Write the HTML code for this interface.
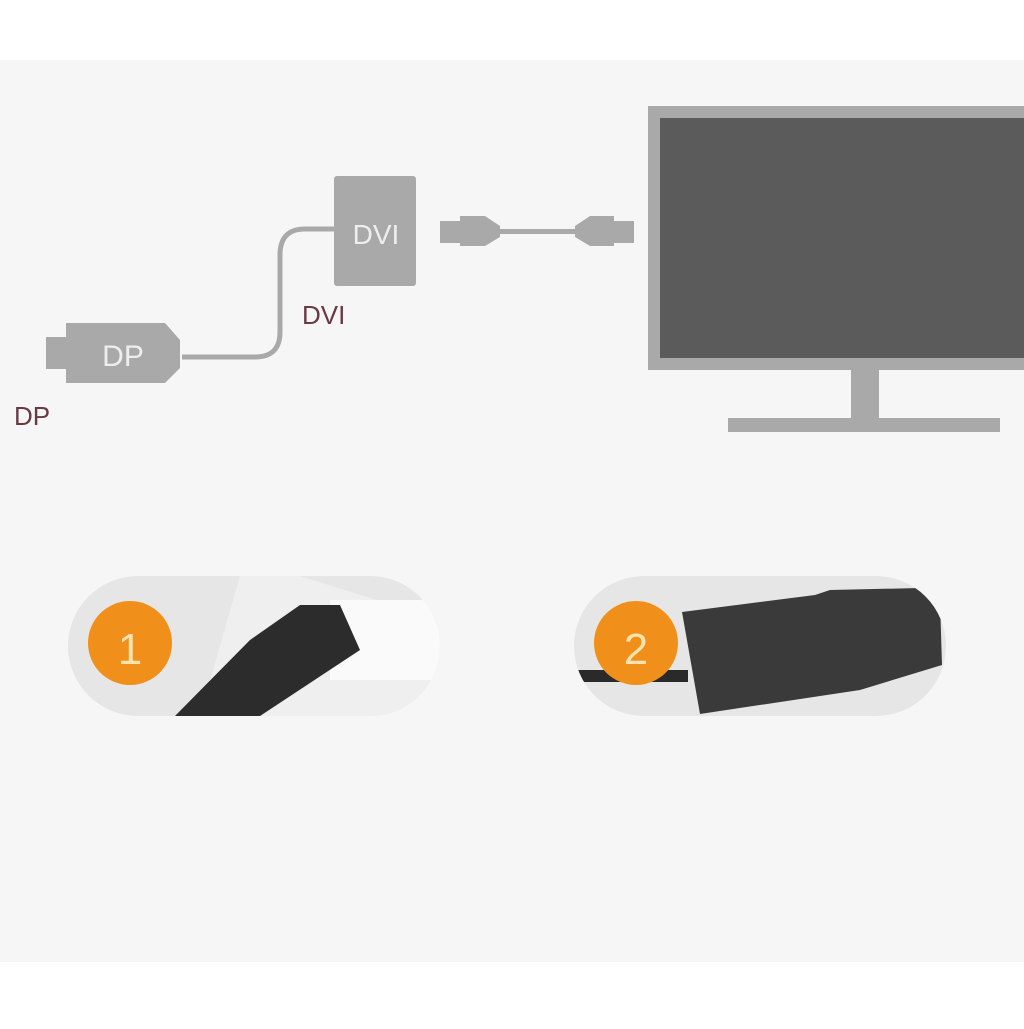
<!DOCTYPE html>
<html><head><style>
body{margin:0;width:1024px;height:1024px;background:#fff;overflow:hidden;font-family:"Liberation Sans",sans-serif}
</style></head><body>
<svg width="1024" height="1024" viewBox="0 0 1024 1024" xmlns="http://www.w3.org/2000/svg">
<defs>
<clipPath id="c1"><rect x="68" y="576" width="372" height="140" rx="70"/></clipPath>
<clipPath id="c2"><rect x="574" y="576" width="372" height="140" rx="70"/></clipPath>
</defs>
<rect x="0" y="60" width="1024" height="902" fill="#f6f6f6"/>
<!-- monitor -->
<rect x="648" y="106" width="380" height="264" fill="#a9a9a9"/>
<rect x="660" y="118" width="364" height="240" fill="#5b5b5b"/>
<rect x="851" y="370" width="28" height="50" fill="#a9a9a9"/>
<rect x="728" y="418" width="272" height="14" fill="#a9a9a9"/>
<!-- DP -->
<rect x="46" y="337" width="22" height="32" fill="#a9a9a9"/>
<path d="M66 323 H165 L180 340 V368 L165 383 H66 Z" fill="#a9a9a9"/>
<text x="123" y="366" font-size="30" fill="#eee" text-anchor="middle">DP</text>
<path d="M182 357 H255 Q280 357 280 332 V255 Q280 229 305 229 H336" fill="none" stroke="#a9a9a9" stroke-width="5"/>
<!-- DVI box -->
<rect x="334" y="176" width="82" height="110" rx="3" fill="#a9a9a9"/>
<text x="376" y="244" font-size="28" fill="#eee" text-anchor="middle">DVI</text>
<text x="302" y="324" font-size="26" fill="#6a3a44">DVI</text>
<text x="14" y="425" font-size="26" fill="#6a3a44">DP</text>
<!-- cable -->
<rect x="440" y="221" width="20" height="22" fill="#a9a9a9"/>
<path d="M460 216 H485 L500 226 V237 L485 246 H460 Z" fill="#a9a9a9"/>
<rect x="498" y="229" width="80" height="5" fill="#a9a9a9"/>
<path d="M614 216 H590 L575 226 V237 L590 246 H614 Z" fill="#a9a9a9"/>
<rect x="614" y="221" width="20" height="22" fill="#a9a9a9"/>
<!-- photo 1 -->
<g clip-path="url(#c1)">
<rect x="68" y="576" width="372" height="140" fill="#e6e6e6"/>
<path d="M240 576 H300 L440 620 V716 H200 Z" fill="#efefef"/>
<rect x="330" y="600" width="110" height="80" fill="#fafafa"/>
<path d="M175 716 L250 640 L300 605 L340 605 L360 650 L260 716 Z" fill="#2c2c2c"/>
</g>
<circle cx="130" cy="643" r="42" fill="#f0901a"/>
<text x="130" y="664" font-size="44" fill="#fbe3b0" text-anchor="middle">1</text>
<!-- photo 2 -->
<g clip-path="url(#c2)">
<rect x="574" y="576" width="372" height="140" fill="#e6e6e6"/>
<rect x="574" y="670" width="114" height="12" fill="#2a2a2a"/>
<path d="M682 612 L815 595 L830 590 L920 588 L940 600 L942 665 L860 690 L700 714 Z" fill="#3a3a3a"/>
</g>
<circle cx="636" cy="643" r="42" fill="#f0901a"/>
<text x="636" y="664" font-size="44" fill="#fbe3b0" text-anchor="middle">2</text>
</svg>
</body></html>
